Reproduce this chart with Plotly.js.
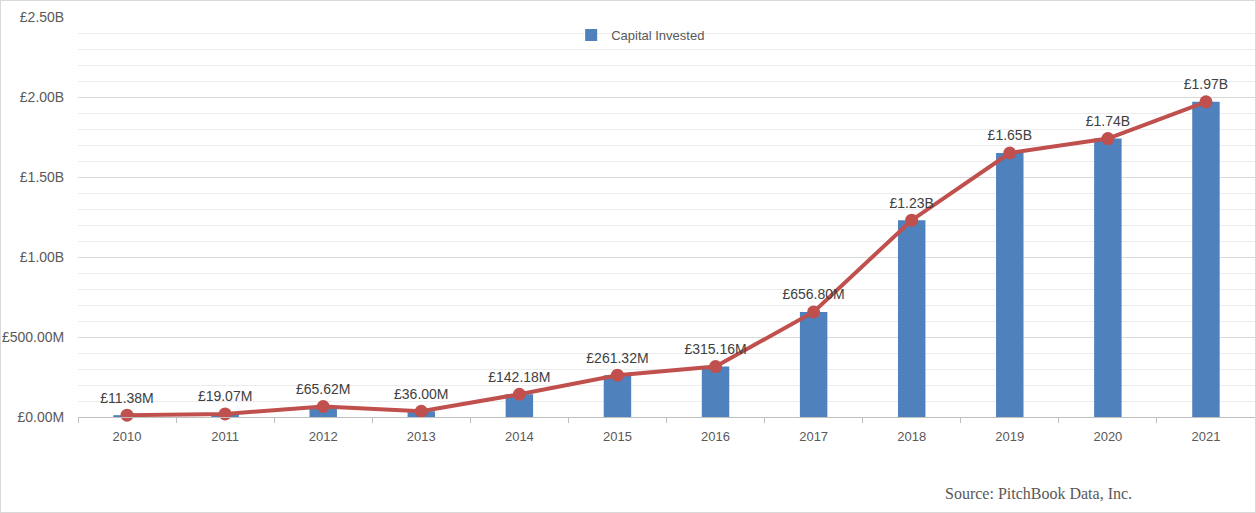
<!DOCTYPE html>
<html>
<head>
<meta charset="utf-8">
<script src="https://cdn.plot.ly/plotly-3.0.1.min.js"></script>
<style>
html,body{margin:0;padding:0;background:#fff;}
#wrap{position:absolute;left:0;top:0;width:1256px;height:513px;box-sizing:border-box;border:1px solid #d9d9d9;overflow:hidden;}
#chart{width:1254px;height:511px;}
</style>
</head>
<body>
<div id="wrap"><div id="chart"></div></div>
<script>
const years = ["2010","2011","2012","2013","2014","2015","2016","2017","2018","2019","2020","2021"];
const capitalMillions = [11.38, 19.07, 65.62, 36.00, 142.18, 261.32, 315.16, 656.80, 1230, 1650, 1740, 1970];
const valueLabels = ["£11.38M","£19.07M","£65.62M","£36.00M","£142.18M","£261.32M","£315.16M","£656.80M","£1.23B","£1.65B","£1.74B","£1.97B"];
const yTickVals = [0, 500, 1000, 1500, 2000, 2500];
const yTickText = ["£0.00M","£500.00M","£1.00B","£1.50B","£2.00B","£2.50B"];
const sourceText = "Source: PitchBook Data, Inc.";

const traces = [
  {
    type: "bar",
    name: "Capital Invested",
    x: years,
    y: capitalMillions,
    width: 0.28,
    marker: {color: "#4F81BD"},
    hoverinfo: "skip"
  },
  {
    type: "scatter",
    mode: "lines+markers+text",
    name: "Trend",
    showlegend: false,
    x: years,
    y: capitalMillions,
    text: valueLabels,
    textposition: "top center",
    textfont: {family: "Liberation Sans, Arial, sans-serif", size: 14, color: "#404040"},
    line: {color: "#C0504D", width: 4},
    marker: {color: "#C0504D", size: 13},
    cliponaxis: false
  }
];

const layout = {
  width: 1254,
  height: 511,
  margin: {l: 77, r: 0, t: 16, b: 95},
  paper_bgcolor: "#ffffff",
  plot_bgcolor: "#ffffff",
  font: {family: "Liberation Sans, Arial, sans-serif", size: 12, color: "#595959"},
  showlegend: true,
  legend: {
    orientation: "h",
    x: 0.419, xanchor: "left",
    y: 0.955, yanchor: "middle",
    itemwidth: 30,
    font: {size: 13, color: "#595959"},
    bgcolor: "rgba(0,0,0,0)"
  },
  xaxis: {
    type: "category",
    range: [-0.5, 11.5],
    autorange: false,
    showgrid: false,
    showline: true,
    linecolor: "#bfbfbf",
    linewidth: 1,
    ticks: "outside",
    tickson: "boundaries",
    ticklen: 5,
    tickcolor: "#bfbfbf",
    ticklabelstandoff: 7,
    tickfont: {size: 13, color: "#595959"},
    zeroline: false,
    fixedrange: true
  },
  yaxis: {
    range: [0, 2500],
    tickmode: "array",
    tickvals: yTickVals,
    ticktext: yTickText,
    showgrid: true,
    gridcolor: "#d9d9d9",
    gridwidth: 1,
    ticks: "outside",
    ticklen: 10,
    tickcolor: "rgba(0,0,0,0)",
    tickfont: {size: 14, color: "#595959"},
    minor: {tickmode: "linear", tick0: 0, dtick: 100, showgrid: true, gridcolor: "#ececec", gridwidth: 1, ticks: ""},
    zeroline: false,
    showline: false,
    fixedrange: true
  },
  annotations: [
    {
      xref: "paper", yref: "paper",
      x: 0.897, y: -0.19,
      xanchor: "right", yanchor: "middle",
      text: sourceText,
      showarrow: false,
      font: {family: "Liberation Serif, DejaVu Serif, serif", size: 16, color: "#595959"}
    }
  ]
};

Plotly.newPlot("chart", traces, layout, {displayModeBar: false, staticPlot: true});
</script>
</body>
</html>
